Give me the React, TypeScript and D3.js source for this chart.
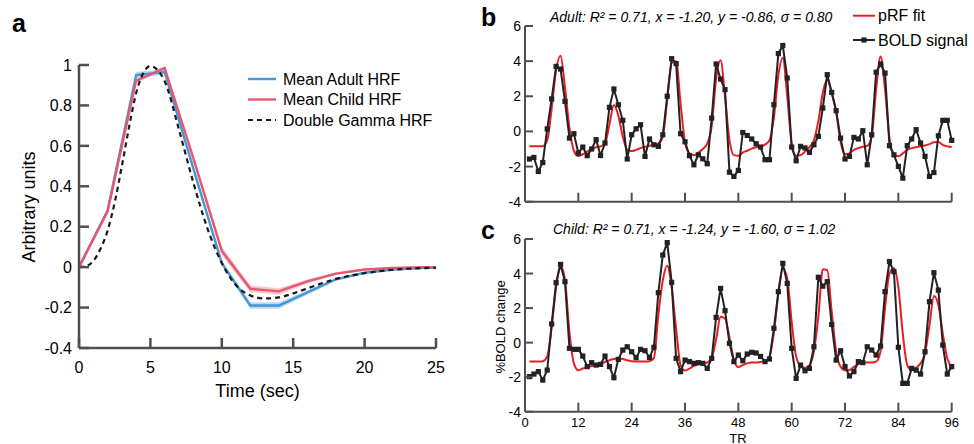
import React from "react";
import * as d3 from "d3";

// ---------- Panel a data ----------
const hrfTime = [0, 2, 4, 6, 8, 10, 12, 14, 16, 18, 20, 22, 24, 25];
const adultHRF = [0, 0.28, 0.95, 0.965, 0.49, 0.02, -0.19, -0.19, -0.125, -0.06, -0.028, -0.012, -0.004, -0.002];
const adultSE = [0, 0.01, 0.016, 0.012, 0.01, 0.012, 0.016, 0.016, 0.01, 0.007, 0.005, 0.003, 0.002, 0.002];
const childHRF = [0, 0.275, 0.922, 0.985, 0.54, 0.08, -0.107, -0.12, -0.07, -0.032, -0.012, -0.004, 0, 0];
const childSE = [0, 0.01, 0.012, 0.01, 0.015, 0.022, 0.016, 0.016, 0.01, 0.007, 0.005, 0.003, 0.002, 0.002];
const gammaTime = [0, 0.5, 1, 1.5, 2, 2.5, 3, 3.5, 4, 4.5, 5, 5.5, 6, 7, 8, 9, 10, 11, 12, 13, 14, 15, 16, 17, 18, 19, 20, 21, 22, 23, 24, 25];
const gammaHRF = [0, 0.005, 0.03, 0.09, 0.18, 0.32, 0.5, 0.69, 0.86, 0.96, 0.995, 0.975, 0.92, 0.68, 0.42, 0.19, 0.02, -0.09, -0.14, -0.155, -0.15, -0.13, -0.105, -0.08, -0.058, -0.042, -0.03, -0.02, -0.013, -0.008, -0.005, -0.003];
const hrfXTicks = [0, 5, 10, 15, 20, 25];
const hrfYTicks = [-0.4, -0.2, 0, 0.2, 0.4, 0.6, 0.8, 1];
const hrfLegend = ["Mean Adult HRF", "Mean Child HRF", "Double Gamma HRF"];

// ---------- Panels b, c data (TR 1..96) ----------
const trTicks = [0, 12, 24, 36, 48, 60, 72, 84, 96];
const boldYTicks = [-4, -2, 0, 2, 4, 6];
const adultBOLD = [
  -1.57, -1.48, -2.28, -1.77, 0.14, 1.85, 3.7, 3.55, 1.71, -0.38,
  -0.13, -1.23, -0.89, -1.38, -1.0, -0.47, -1.37, -0.66, 1.37, 2.41,
  1.52, 0.63, -1.57, -0.19, 0.15, 0.38, -1.42, -0.43, -0.76, -0.85,
  -0.19, 2.0, 4.14, 3.86, -0.13, -0.59, -1.38, -1.9, -1.33, -1.56,
  -1.84, 0.76, 3.84, 2.98, 2.38, -2.32, -2.56, -2.22, -0.06, -0.23,
  -0.43, -0.7, -0.89, -1.61, -1.61, 1.52, 4.43, 4.89, 3.04, -0.89,
  -1.67, -0.85, -0.94, -1.19, -0.76, -0.28, 1.33, 3.23, 2.22, 1.18,
  -0.38, -1.57, -1.42, -0.34, -0.43, 0.04, -1.9, -0.19, 3.37, 3.84,
  3.32, -0.81, -1.33, -1.99, -2.66, -0.81, -0.43, 0.1, -0.66, -1.42,
  -2.56, -2.34, -0.25, 0.63, 0.63, -0.51,
];
const adultFit = [
  -0.85, -0.85, -0.85, -0.84, -0.5, 1.3, 3.5, 4.3, 2.5, 0.2,
  -1.1, -1.4, -1.3, -1.15, -1.0, -0.9, -0.85, -0.7, 0.4, 1.5,
  0.9, -0.3, -1.05, -1.12, -1.05, -0.95, -0.88, -0.82, -0.75, -0.68,
  -0.3, 1.8, 3.9, 4.0, 1.6, -0.6, -1.25, -1.35, -1.2, -1.0,
  -0.7, 0.3, 3.0, 4.05, 2.0, -0.5, -1.35, -1.38, -1.2, -1.1,
  -0.98, -0.9, -0.85, -0.75, -0.5, 0.8, 3.2, 4.2, 2.0, -0.7,
  -1.38, -1.35, -1.15, -0.9, -0.5, 0.6, 2.2, 2.95, 2.2, 1.1,
  -0.6, -1.3, -1.25, -1.05, -0.95, -0.88, -0.82, -0.3, 2.4, 4.27,
  2.4, -0.4, -1.3, -1.42, -1.25, -1.05, -0.95, -0.9, -0.85, -0.8,
  -0.72, -0.62, -0.6, -0.76, -0.85, -0.89,
];
const childBOLD = [
  -1.97, -1.82, -1.68, -2.17, -1.59, 1.08, 3.47, 4.53, 3.53, -0.33,
  -0.39, -0.39, -0.78, -1.39, -1.16, -1.3, -1.26, -0.78, -1.39, -2.03,
  -0.97, -0.43, -0.24, -0.53, -0.87, -0.39, -0.47, -0.86, -0.27, 2.89,
  5.07, 5.79, 3.49, -0.91, -1.68, -1.01, -1.1, -1.2, -1.16, -1.2,
  -1.49, -0.91, 1.46, 3.14, 1.85, -0.04, -1.1, -0.72, -1.05, -0.66,
  -0.56, -0.6, -0.8, -1.1, -0.95, 0.83, 2.95, 4.59, 3.43, -0.33,
  -2.07, -1.3, -1.63, -1.49, -0.24, 3.78, 3.27, 3.53, 1.05, -1.01,
  -0.47, -1.39, -1.93, -1.68, -1.1, -1.16, -0.24, -0.43, -0.72, -0.2,
  2.95, 4.69, 4.11, -0.27, -2.36, -2.36, -1.49, -1.59, -1.82, -0.53,
  2.37, 4.05, 3.04, -0.14, -1.82, -1.39,
];
const childFit = [
  -1.1, -1.1, -1.1, -1.08, -0.8, 0.9, 3.2, 4.45, 3.6, 0.6,
  -1.2, -1.6, -1.5, -1.42, -1.36, -1.3, -1.22, -1.12, -1.02, -0.95,
  -0.9, -0.95, -1.02, -1.08, -1.1, -1.1, -1.1, -1.08, -0.9, 1.6,
  3.6, 4.45, 3.2, 0.8, -1.3, -1.62, -1.5, -1.35, -1.25, -1.2,
  -1.15, -0.9, 0.2, 1.5, 1.4, 0.3, -1.0, -1.42, -1.3, -1.2,
  -1.15, -1.15, -1.12, -1.1, -0.8, 0.6, 2.8, 4.3, 3.7, 1.2,
  -0.8, -1.35, -1.45, -1.3, -0.5, 1.5, 4.25, 4.2, 1.8, -0.5,
  -1.4, -1.6, -1.6, -1.4, -1.25, -1.15, -1.15, -1.15, -1.1, -0.5,
  2.0, 4.0, 4.3, 3.2, 0.5, -1.3, -1.6, -1.45, -1.2, -0.6,
  1.0, 2.7, 2.2, 0.5, -0.9, -1.4,
];
const adultTitle = "Adult: R² = 0.71, x = -1.20, y = -0.86, σ = 0.80";
const childTitle = "Child: R² = 0.71, x = -1.24, y = -1.60, σ = 1.02";
const boldLegend = ["pRF fit", "BOLD signal"];

const FONT = "'Liberation Sans', Arial, Helvetica, sans-serif";
const AXIS = "#4f4f4f";
const BLUE = "#4597d5";
const PINK = "#e9576f";
const RED = "#ec1c24";
const BLACK = "#222222";

function HRFPanel() {
  const x = d3.scaleLinear().domain([0, 25]).range([79, 436]);
  const y = d3.scaleLinear().domain([-0.4, 1]).range([348, 65]);
  const line = d3.line<number>().x((_, i) => x(hrfTime[i])).y((d) => y(d));
  const band = (m: number[], se: number[]) =>
    d3.area<number>()
      .x((_, i) => x(hrfTime[i]))
      .y0((d, i) => y(d - se[i]))
      .y1((d, i) => y(d + se[i]))(m) || "";
  const gLine = d3.line<number>().x((_, i) => x(gammaTime[i])).y((d) => y(d)).curve(d3.curveMonotoneX);
  const x0 = x.range()[0], y0 = y.range()[0];
  return (
    <g>
      <text x={12} y={32} fontSize={25} fontWeight="bold" fontFamily={FONT}>a</text>
      <path d={band(adultHRF, adultSE)} fill="#a9d0f0" opacity={0.8} />
      <path d={band(childHRF, childSE)} fill="#f5b8c3" opacity={0.8} />
      <path d={line(adultHRF) || ""} fill="none" stroke={BLUE} strokeWidth={2.4} />
      <path d={line(childHRF) || ""} fill="none" stroke={PINK} strokeWidth={2.4} />
      <path d={gLine(gammaHRF) || ""} fill="none" stroke="#1a1a1a" strokeWidth={2.2} strokeDasharray="5,4" />
      {/* axes */}
      <line x1={x0} x2={x(25)} y1={y0} y2={y0} stroke={AXIS} strokeWidth={2.5} />
      <line x1={x0} x2={x0} y1={y(1)} y2={y0} stroke={AXIS} strokeWidth={2.5} />
      {hrfYTicks.map((t) => (
        <g key={"y" + t}>
          <line x1={x0} x2={x0 + 10} y1={y(t)} y2={y(t)} stroke={AXIS} strokeWidth={2.5} />
          <text x={72} y={y(t)} dy="0.36em" textAnchor="end" fontSize={16} fontFamily={FONT}>{String(t)}</text>
        </g>
      ))}
      {hrfXTicks.map((t) => (
        <g key={"x" + t}>
          <line x1={x(t)} x2={x(t)} y1={y0} y2={y0 - 10} stroke={AXIS} strokeWidth={2.5} />
          <text x={x(t)} y={373} textAnchor="middle" fontSize={16} fontFamily={FONT}>{String(t)}</text>
        </g>
      ))}
      <text x={(x0 + x(25)) / 2} y={397} textAnchor="middle" fontSize={18} fontFamily={FONT}>Time (sec)</text>
      <text transform={`translate(35,207) rotate(-90)`} textAnchor="middle" fontSize={18} fontFamily={FONT}>Arbitrary units</text>
      {/* legend */}
      {hrfLegend.map((lab, i) => {
        const ly = 79 + i * 20.5;
        return (
          <g key={lab}>
            <line x1={248} x2={276} y1={ly} y2={ly}
              stroke={i === 0 ? BLUE : i === 1 ? PINK : "#1a1a1a"}
              strokeWidth={i === 2 ? 2.2 : 2.4}
              strokeDasharray={i === 2 ? "5,4" : undefined} />
            <text x={283} y={ly + 5.8} fontSize={16} fontFamily={FONT}>{lab}</text>
          </g>
        );
      })}
    </g>
  );
}

function BoldPanel(props: { top: number; bottom: number; bold: number[]; fit: number[]; title: string; titleX: number; titleY: number; letter: string; letterY: number; labels: boolean }) {
  const { top, bottom, bold, fit } = props;
  const x = d3.scaleLinear().domain([0, 96]).range([525, 951.7]);
  const y = d3.scaleLinear().domain([-4, 6]).range([bottom, top]);
  const fitLine = d3.line<number>().x((_, i) => x(i + 1)).y((d) => y(d)).curve(d3.curveMonotoneX);
  const boldLine = d3.line<number>().x((_, i) => x(i + 1)).y((d) => y(d));
  const x0 = x.range()[0];
  return (
    <g>
      <text x={481} y={props.letterY} fontSize={25} fontWeight="bold" fontFamily={FONT}>{props.letter}</text>
      <text x={props.titleX} y={props.titleY} fontSize={14} fontStyle="italic" fontFamily={FONT}>{props.title}</text>
      <path d={fitLine(fit) || ""} fill="none" stroke={RED} strokeWidth={2} />
      <path d={boldLine(bold) || ""} fill="none" stroke={BLACK} strokeWidth={2} />
      {bold.map((d, i) => (
        <rect key={i} x={x(i + 1) - 2.6} y={y(d) - 2.6} width={5.2} height={5.2} fill={BLACK} />
      ))}
      <line x1={x0} x2={x(96)} y1={bottom} y2={bottom} stroke={AXIS} strokeWidth={2} />
      <line x1={x0} x2={x0} y1={top} y2={bottom} stroke={AXIS} strokeWidth={2} />
      {boldYTicks.map((t) => (
        <g key={"y" + t}>
          <line x1={x0} x2={x0 + 8} y1={y(t)} y2={y(t)} stroke={AXIS} strokeWidth={2} />
          <text x={521} y={y(t)} dy="0.36em" textAnchor="end" fontSize={14} fontFamily={FONT}>{String(t)}</text>
        </g>
      ))}
      {trTicks.map((t) => (
        <g key={"x" + t}>
          <line x1={x(t)} x2={x(t)} y1={bottom} y2={bottom - 9} stroke={AXIS} strokeWidth={2} />
          {props.labels && (
            <text x={x(t)} y={bottom + 15} textAnchor="middle" fontSize={13} fontFamily={FONT}>{String(t)}</text>
          )}
        </g>
      ))}
    </g>
  );
}

export default function App() {
  const lx = 853, lx2 = 875;
  return (
    <svg width={974} height={444} style={{ position: "absolute", left: 0, top: 0, background: "#fff" }}>
      <rect width={974} height={444} fill="#fff" />
      <HRFPanel />
      <BoldPanel top={26} bottom={201.7} bold={adultBOLD} fit={adultFit} title={adultTitle} titleX={550} titleY={21.5} letter="b" letterY={26} labels={false} />
      <BoldPanel top={239} bottom={411.7} bold={childBOLD} fit={childFit} title={childTitle} titleX={553} titleY={234} letter="c" letterY={239} labels={true} />
      <text x={738} y={442.5} textAnchor="middle" fontSize={13} fontFamily={FONT}>TR</text>
      <text transform="translate(505,327) rotate(-90)" textAnchor="middle" fontSize={13} fontFamily={FONT}>%BOLD change</text>
      {/* legend b */}
      <line x1={lx} x2={lx2} y1={15.7} y2={15.7} stroke={RED} strokeWidth={2} />
      <text x={878} y={21} fontSize={16} fontFamily={FONT}>{boldLegend[0]}</text>
      <line x1={lx} x2={lx2} y1={40} y2={40} stroke={BLACK} strokeWidth={2} />
      <rect x={(lx + lx2) / 2 - 2.6} y={40 - 2.6} width={5.2} height={5.2} fill={BLACK} />
      <text x={878} y={45.5} fontSize={16} fontFamily={FONT}>{boldLegend[1]}</text>
    </svg>
  );
}
